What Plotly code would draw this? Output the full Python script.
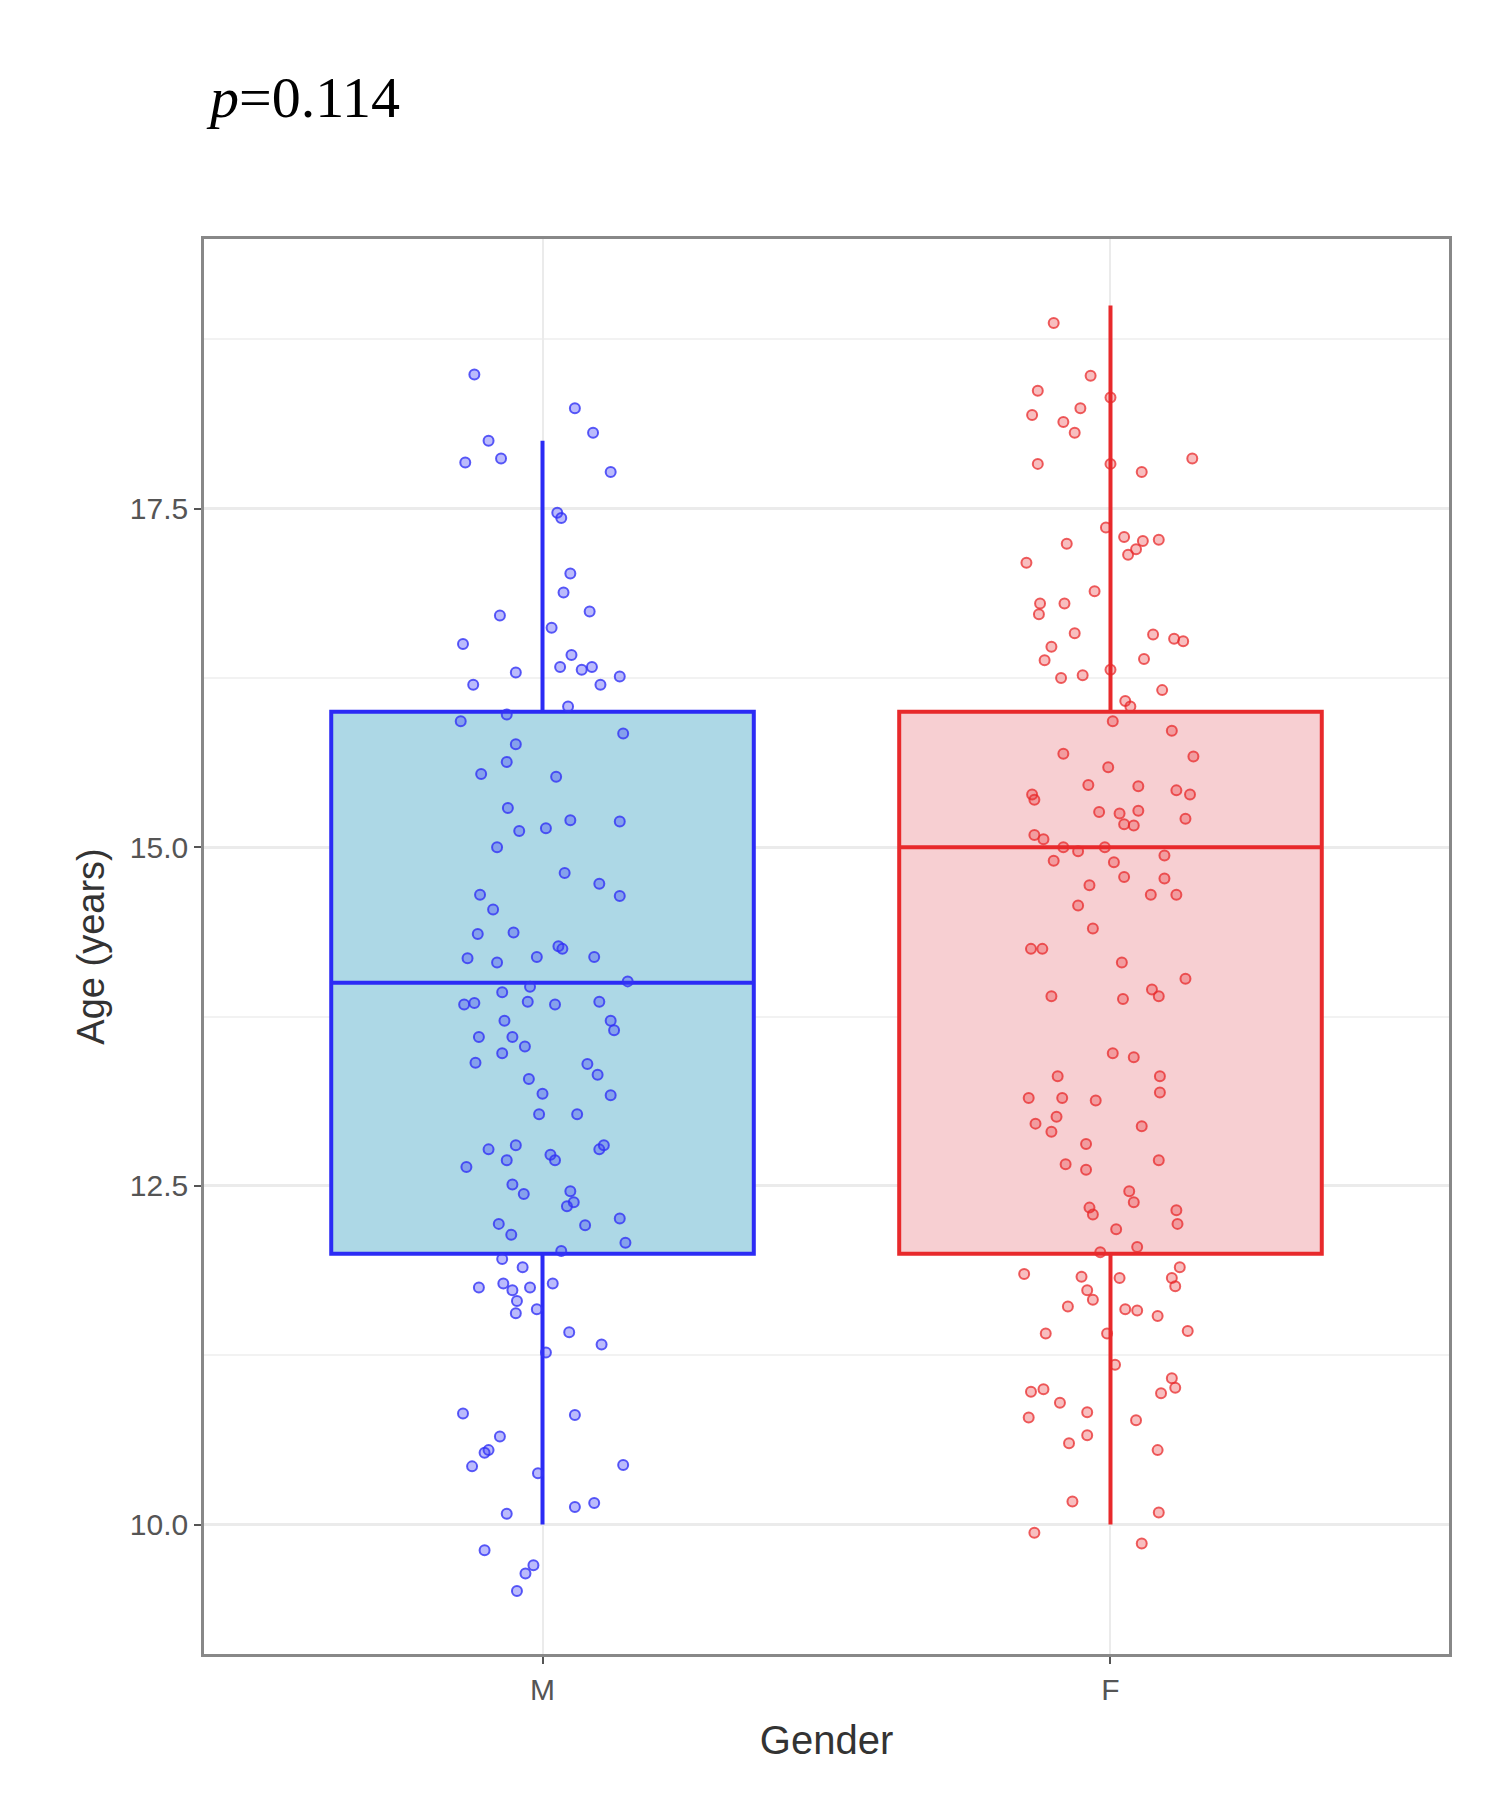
import plotly.graph_objects as go

categories = ["M", "F"]
cat_pos = [0, 1]
q1 = [12, 12]
median = [14, 15]
q3 = [16, 16]
lowerfence = [10, 10]
upperfence = [18, 19]

m_age = [18.49,18.24,18.0,18.06,17.84,17.87,17.77,17.47,17.43,17.02,16.88,16.74,16.71,16.5,16.62,16.2,16.29,16.42,16.33,16.31,16.33,16.2,16.26,16.04,15.93,15.98,15.84,15.76,15.63,15.54,15.52,15.29,15.2,15.19,15.14,15.12,15.0,14.81,14.73,14.64,14.65,14.54,14.36,14.37,14.27,14.25,14.18,14.15,14.19,14.19,14.01,13.97,13.93,13.84,13.85,13.86,13.84,13.86,13.72,13.72,13.65,13.6,13.6,13.53,13.48,13.41,13.4,13.32,13.29,13.18,13.17,13.03,13.03,12.77,12.8,12.77,12.8,12.69,12.73,12.69,12.64,12.51,12.44,12.46,12.38,12.35,12.26,12.21,12.22,12.14,12.08,12.02,11.96,11.9,11.78,11.75,11.78,11.73,11.75,11.65,11.59,11.56,11.42,11.33,11.27,10.82,10.81,10.65,10.55,10.53,10.43,10.44,10.38,10.13,10.16,10.08,9.81,9.7,9.64,9.51]
m_jit = [-0.12,0.057,-0.095,0.089,-0.136,-0.073,0.12,0.026,0.033,0.049,0.037,0.083,-0.075,-0.14,0.016,-0.122,-0.047,0.051,0.031,0.069,0.087,0.102,0.136,0.045,-0.144,-0.063,0.142,-0.047,-0.063,-0.108,0.024,-0.061,0.049,0.136,0.006,-0.041,-0.08,0.039,0.1,0.136,-0.11,-0.087,-0.114,-0.051,0.028,0.035,-0.132,-0.08,-0.01,0.091,0.15,-0.022,-0.071,-0.138,-0.12,-0.026,0.022,0.1,0.12,-0.067,0.126,-0.112,-0.053,-0.031,-0.071,-0.118,0.079,0.097,-0.024,0.0,0.12,-0.006,0.061,0.1,0.108,-0.095,-0.047,-0.063,0.014,0.022,-0.134,-0.053,-0.033,0.049,0.055,0.043,0.136,0.075,-0.077,-0.055,0.146,0.033,-0.071,-0.035,0.018,-0.112,-0.069,-0.053,-0.022,-0.045,-0.01,-0.047,0.047,0.104,0.006,-0.14,0.057,-0.075,-0.095,-0.102,-0.124,0.142,-0.008,0.057,0.091,-0.063,-0.102,-0.016,-0.03,-0.045]

f_age = [18.87,18.48,18.37,18.32,18.24,18.19,18.14,18.06,17.83,17.83,17.87,17.77,17.36,17.29,17.26,17.27,17.24,17.2,17.16,17.1,16.89,16.8,16.8,16.72,16.54,16.57,16.52,16.58,16.48,16.38,16.39,16.31,16.25,16.27,16.16,16.08,16.04,15.93,15.86,15.67,15.69,15.59,15.45,15.42,15.39,15.39,15.35,15.46,15.21,15.26,15.25,15.27,15.16,15.17,15.09,15.06,15.0,15.0,14.97,14.9,14.89,14.94,14.72,14.78,14.65,14.65,14.77,14.57,14.4,14.15,14.25,14.25,14.03,13.95,13.9,13.88,13.9,13.48,13.45,13.31,13.31,13.19,13.15,13.15,13.13,13.01,12.96,12.94,12.9,12.81,12.69,12.66,12.62,12.46,12.38,12.34,12.29,12.32,12.22,12.18,12.01,12.05,11.85,11.9,11.82,11.76,11.83,11.82,11.73,11.66,11.61,11.59,11.58,11.54,11.43,11.41,11.41,11.18,11.08,11.01,10.97,10.98,11.0,10.9,10.83,10.79,10.77,10.66,10.6,10.55,10.17,10.09,9.94,9.86]
f_jit = [-0.1,-0.035,-0.128,0,-0.053,-0.138,-0.083,-0.063,-0.128,0,0.144,0.055,-0.008,0.024,0.057,0.085,-0.077,0.045,0.031,-0.148,-0.028,-0.124,-0.081,-0.126,0.112,0.075,0.128,-0.063,-0.104,-0.116,0.059,0,-0.087,-0.049,0.091,0.026,0.035,0.004,0.108,0.146,-0.083,-0.004,0.049,0.116,0.14,-0.138,-0.134,-0.039,0.132,-0.02,0.016,0.049,0.041,0.024,-0.134,-0.118,-0.01,-0.083,-0.057,-0.1,0.006,0.095,-0.037,0.024,0.071,0.116,0.095,-0.057,-0.031,0.02,-0.14,-0.12,0.132,0.073,0.085,0.022,-0.104,0.004,0.041,-0.093,0.087,0.087,-0.085,-0.144,-0.026,-0.095,-0.132,0.055,-0.104,-0.043,0.085,-0.079,-0.043,0.033,0.041,-0.037,-0.031,0.116,0.118,0.01,-0.018,0.047,-0.152,0.122,0.108,0.114,-0.051,0.016,-0.041,-0.031,-0.075,0.026,0.047,0.083,0.136,-0.114,-0.006,0.008,0.108,0.114,0.089,-0.14,-0.118,-0.089,-0.041,-0.144,0.045,-0.041,-0.073,0.083,-0.067,0.085,-0.134,0.055]

fills = ["#ADD8E6", "#F7CFD2"]
lines = ["#2B2BF5", "#E8292B"]
pt_fill = ["rgba(60,60,245,0.35)", "rgba(232,41,43,0.3)"]
pt_line = ["rgba(50,50,245,0.8)", "rgba(232,41,43,0.75)"]
pts = [(m_age, m_jit), (f_age, f_jit)]

fig = go.Figure()
for i in range(2):
    fig.add_trace(go.Box(
        x=[cat_pos[i]], q1=[q1[i]], median=[median[i]], q3=[q3[i]],
        lowerfence=[lowerfence[i]], upperfence=[upperfence[i]],
        width=0.744, whiskerwidth=0, fillcolor=fills[i],
        line=dict(color=lines[i], width=4), boxpoints=False, showlegend=False))
for i in range(2):
    ages, jit = pts[i]
    fig.add_trace(go.Scatter(
        x=[cat_pos[i] + j for j in jit], y=ages, mode="markers", showlegend=False,
        marker=dict(size=10, color=pt_fill[i], line=dict(color=pt_line[i], width=2))))

fig.update_layout(
    width=1501, height=1801, paper_bgcolor="white", plot_bgcolor="white",
    margin=dict(l=196, r=60, t=231, b=155),
    font=dict(family="Liberation Sans, Arial", color="#444"),
    annotations=[dict(text="<i>p</i>=0.114", xref="paper", yref="paper", x=0.0, y=1.10,
                      xanchor="left", yanchor="middle", showarrow=False,
                      font=dict(family="Liberation Serif", size=58, color="black"))],
)
fig.update_xaxes(range=[-0.596, 1.596], tickvals=cat_pos, ticktext=categories,
                 showgrid=True, gridcolor="#EBEBEB", gridwidth=1.5, zeroline=False,
                 showline=True, mirror=True, linecolor="#888", linewidth=2.5,
                 ticks="outside", ticklen=7, tickcolor="#555", tickwidth=2,
                 tickfont=dict(size=30, color="#555"),
                 title=dict(text="Gender", font=dict(size=40, color="#333"), standoff=22))
fig.update_yaxes(range=[9.045, 19.49], tickvals=[10, 12.5, 15, 17.5],
                 ticktext=["10.0", "12.5", "15.0", "17.5"],
                 showgrid=True, gridcolor="#EBEBEB", gridwidth=2.5, zeroline=False,
                 minor=dict(tickvals=[11.25, 13.75, 16.25, 18.75], showgrid=True,
                            gridcolor="#F2F2F2", gridwidth=1.5),
                 showline=True, mirror=True, linecolor="#888", linewidth=2.5,
                 ticks="outside", ticklen=7, tickcolor="#555", tickwidth=2,
                 tickfont=dict(size=30, color="#555"),
                 title=dict(text="Age (years)", font=dict(size=38, color="#333"), standoff=14))
fig.write_html("out.html")
